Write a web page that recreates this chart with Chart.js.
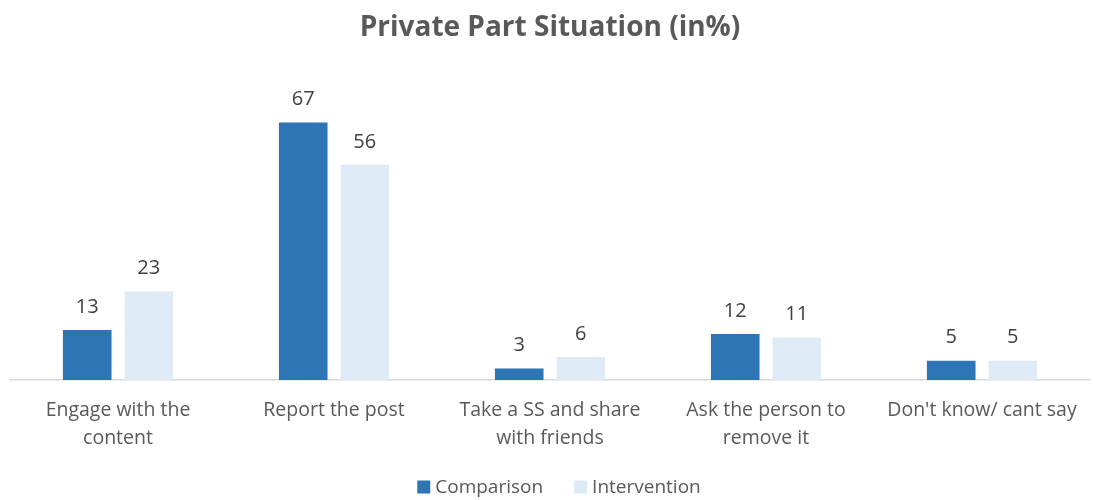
<!DOCTYPE html>
<html>
<head>
<meta charset="utf-8">
<script src="https://cdn.jsdelivr.net/npm/chart.js@4.4.1/dist/chart.umd.min.js"></script>
<style>
  html, body { margin: 0; padding: 0; background: #fff; }
  #wrap { width: 1095px; height: 500px; }
</style>
</head>
<body>
<div id="wrap"><canvas id="chart" width="1095" height="500"></canvas></div>
<script>
const categories = [
    ['Engage with the', 'content'],
    'Report the post',
    ['Take a SS and share', 'with friends'],
    ['Ask the person to', 'remove it'],
    "Don't know/ cant say"
];
const comparison = [13, 67, 3, 12, 5];
const intervention = [23, 56, 6, 11, 5];

const FONT = "'Open Sans', 'Noto Sans', sans-serif";

// value labels above each bar
const barValues = {
    id: 'barValues',
    afterDatasetsDraw(chart) {
        const ctx = chart.ctx;
        ctx.save();
        ctx.font = '20px ' + FONT;
        ctx.fillStyle = '#404040';
        ctx.textAlign = 'center';
        ctx.textBaseline = 'bottom';
        chart.data.datasets.forEach((ds, i) => {
            chart.getDatasetMeta(i).data.forEach((bar, j) => {
                ctx.fillText(ds.data[j], bar.x, bar.y - 13);
            });
        });
        ctx.restore();
    }
};

// legend along the bottom: square swatch + label, wider gap between entries
const bottomLegend = {
    id: 'bottomLegend',
    afterDraw(chart) {
        const ctx = chart.ctx;
        const box = 13, textGap = 5, itemGap = 31, y = 487;
        ctx.save();
        ctx.font = '19px ' + FONT;
        ctx.textBaseline = 'middle';
        const items = chart.data.datasets.map(ds => ({
            text: ds.label,
            color: ds.backgroundColor,
            w: box + textGap + ctx.measureText(ds.label).width
        }));
        const total = items.reduce((s, it) => s + it.w, 0) + itemGap * (items.length - 1);
        let x = 559 - total / 2;
        items.forEach(it => {
            ctx.fillStyle = it.color;
            ctx.fillRect(x, y - box / 2, box, box);
            ctx.fillStyle = '#595959';
            ctx.fillText(it.text, x + box + textGap, y + 1);
            x += it.w + itemGap;
        });
        ctx.restore();
    }
};

new Chart(document.getElementById('chart'), {
    type: 'bar',
    data: {
        labels: categories,
        datasets: [
            {
                label: 'Comparison',
                data: comparison,
                backgroundColor: '#2E75B6',
                categoryPercentage: 0.57,
                barPercentage: 0.79
            },
            {
                label: 'Intervention',
                data: intervention,
                backgroundColor: '#DEEBF7',
                categoryPercentage: 0.57,
                barPercentage: 0.79
            }
        ]
    },
    options: {
        responsive: false,
        animation: false,
        layout: { padding: { left: 10, right: 5, top: 0, bottom: 54 } },
        plugins: {
            title: {
                display: true,
                text: 'Private Part Situation (in%)',
                color: '#595959',
                font: { family: FONT, size: 28, weight: 'bold' },
                padding: { top: 11, bottom: 28 }
            },
            legend: { display: false },
            tooltip: { enabled: false }
        },
        scales: {
            x: {
                grid: { display: false },
                border: { display: true, color: '#D9D9D9', width: 1.5 },
                ticks: {
                    color: '#595959',
                    font: { family: FONT, size: 19.5, lineHeight: 1.45 },
                    maxRotation: 0,
                    padding: 8
                },
                afterFit(scale) {
                    scale.height = 66;
                }
            },
            y: {
                display: false,
                min: 0,
                max: 80
            }
        }
    },
    plugins: [barValues, bottomLegend]
});
</script>
</body>
</html>
